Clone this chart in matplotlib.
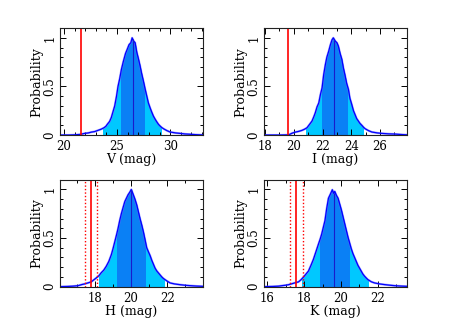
import numpy as np
import matplotlib
matplotlib.use("Agg")
import matplotlib.pyplot as plt
from matplotlib.patches import Rectangle
from matplotlib.ticker import MultipleLocator

# --- данные ---
v_mag = [19.62, 20.5, 21.0, 21.5, 21.95, 22.3, 22.58, 22.9, 23.2, 23.5, 23.77, 23.95, 24.08, 24.3,
         24.46, 24.62, 24.78, 24.95, 25.09, 25.25, 25.41, 25.6, 25.8, 25.95, 26.13, 26.3, 26.42,
         26.54, 26.7, 26.86, 27.0, 27.17, 27.3, 27.48, 27.65, 27.8, 27.95, 28.11, 28.25, 28.42,
         28.6, 28.75, 28.9, 29.06, 29.2, 29.37, 29.7, 30.0, 30.5, 30.94, 31.4, 31.89, 32.4, 32.83, 33.1]
v_prob = [0.0, 0.0, 0.002, 0.006, 0.017, 0.022, 0.03, 0.036, 0.048, 0.06, 0.075, 0.09, 0.11, 0.14,
          0.18, 0.24, 0.30, 0.40, 0.50, 0.58, 0.675, 0.76, 0.84, 0.88, 0.93, 0.95, 1.0,
          0.97, 0.95, 0.85, 0.79, 0.71, 0.64, 0.555, 0.47, 0.40, 0.33, 0.28, 0.24, 0.195,
          0.16, 0.134, 0.11, 0.092, 0.078, 0.065, 0.045, 0.031, 0.022, 0.017, 0.011, 0.008, 0.004, 0.002, 0.001]

i_mag = [17.93, 19.0, 19.65, 19.9, 20.11, 20.35, 20.57, 20.75, 20.92, 21.1, 21.27, 21.4, 21.5, 21.62,
         21.74, 21.86, 21.97, 22.08, 22.2, 22.3, 22.43, 22.55, 22.66, 22.75, 22.89, 23.0, 23.1,
         23.22, 23.34, 23.45, 23.57, 23.68, 23.8, 23.9, 24.03, 24.15, 24.26, 24.37, 24.49, 24.6,
         24.73, 24.85, 24.96, 25.2, 25.43, 25.8, 26.12, 26.6, 27.05, 27.4, 27.74, 27.88]
i_prob = [0.0, 0.0, 0.002, 0.02, 0.03, 0.038, 0.048, 0.06, 0.075, 0.11, 0.144, 0.19, 0.23, 0.29,
          0.33, 0.42, 0.486, 0.62, 0.726, 0.80, 0.863, 0.93, 0.98, 1.0, 0.966, 0.95, 0.915,
          0.84, 0.78, 0.69, 0.61, 0.53, 0.47, 0.38, 0.315, 0.25, 0.21, 0.17, 0.144, 0.12,
          0.10, 0.08, 0.065, 0.045, 0.031, 0.022, 0.017, 0.012, 0.01, 0.006, 0.003, 0.002]

h_mag = [16.08, 16.5, 16.8, 17.08, 17.3, 17.45, 17.62, 17.81, 17.95, 18.09, 18.22, 18.36, 18.5, 18.64,
         18.78, 18.92, 19.01, 19.1, 19.2, 19.29, 19.38, 19.47, 19.56, 19.66, 19.75, 19.84, 19.93,
         20.02, 20.13, 20.22, 20.32, 20.41, 20.5, 20.6, 20.69, 20.78, 20.87, 20.96, 21.06, 21.15,
         21.24, 21.33, 21.43, 21.52, 21.61, 21.7, 21.79, 21.97, 22.16, 22.4, 22.71, 23.0, 23.27,
         23.6, 23.98]
h_prob = [0.0, 0.002, 0.005, 0.01, 0.022, 0.028, 0.038, 0.049, 0.07, 0.09, 0.11, 0.143, 0.17, 0.21,
          0.26, 0.33, 0.39, 0.456, 0.53, 0.6, 0.68, 0.75, 0.81, 0.875, 0.91, 0.945, 0.97,
          1.0, 0.945, 0.90, 0.84, 0.77, 0.70, 0.63, 0.56, 0.48, 0.40, 0.36, 0.317, 0.27,
          0.23, 0.19, 0.16, 0.14, 0.12, 0.10, 0.084, 0.06, 0.038, 0.028, 0.02, 0.014, 0.01,
          0.006, 0.003]

k_mag = [15.81, 16.3, 16.6, 16.79, 17.0, 17.15, 17.3, 17.42, 17.55, 17.69, 17.82, 17.96, 18.1, 18.23,
         18.37, 18.5, 18.64, 18.78, 18.87, 18.95, 19.04, 19.13, 19.22, 19.32, 19.42, 19.53, 19.6,
         19.66, 19.75, 19.84, 19.93, 20.02, 20.11, 20.2, 20.29, 20.38, 20.47, 20.56, 20.65, 20.74,
         20.83, 20.92, 21.01, 21.1, 21.19, 21.28, 21.37, 21.46, 21.65, 21.83, 22.1, 22.37, 22.65,
         22.91, 23.25, 23.6]
k_prob = [0.0, 0.002, 0.005, 0.01, 0.015, 0.02, 0.028, 0.035, 0.042, 0.049, 0.07, 0.098, 0.13, 0.16,
          0.22, 0.28, 0.36, 0.44, 0.49, 0.54, 0.61, 0.68, 0.80, 0.91, 0.95, 0.997, 0.96,
          0.98, 0.94, 0.91, 0.85, 0.79, 0.72, 0.65, 0.58, 0.51, 0.45, 0.39, 0.34, 0.30,
          0.26, 0.22, 0.19, 0.16, 0.13, 0.108, 0.09, 0.073, 0.05, 0.038, 0.028, 0.021, 0.015,
          0.01, 0.006, 0.003]

band_names = ['V', 'I', 'H', 'K']
medians = [26.48, 22.82, 20.0, 19.62]
sigma1 = [(25.35, 27.55), (21.99, 23.69), (19.22, 20.78), (18.88, 20.42)]
sigma2 = [(23.71, 29.12), (20.87, 24.84), (18.24, 21.83), (17.89, 21.45)]
observed = [21.58, 19.6, 17.78, 17.58]
observed_err = [None, None, (17.45, 18.11), (17.22, 17.91)]
x_limits = [(19.62, 33.1), (17.93, 27.88), (16.08, 23.98), (15.81, 23.6)]
x_major = [5, 2, 2, 2]

curves = [(v_mag, v_prob), (i_mag, i_prob), (h_mag, h_prob), (k_mag, k_prob)]

# положение осей в долях фигуры [left, bottom, width, height]
rects = [[0.128, 0.592, 0.306, 0.323], [0.564, 0.592, 0.306, 0.323],
         [0.128, 0.134, 0.306, 0.323], [0.564, 0.134, 0.306, 0.323]]

LIGHT = '#00c8ff'
DARK = '#0a80f5'

plt.rcParams['font.family'] = ['DejaVu Serif']
fig = plt.figure(figsize=(4.68, 3.31), dpi=100)


def fill_band(ax, x, y, lo, hi, color):
    """заливка под кривой, обрезанная прямоугольником lo..hi"""
    poly = ax.fill_between(x, 0, y, color=color, linewidth=0)
    poly.set_clip_path(Rectangle((lo, 0), hi - lo, 2, transform=ax.transData))


for k in range(4):
    ax = fig.add_axes(rects[k])
    x, y = curves[k]

    fill_band(ax, x, y, sigma2[k][0], sigma2[k][1], LIGHT)
    fill_band(ax, x, y, sigma1[k][0], sigma1[k][1], DARK)
    ax.plot(x, y, color='#6a6aff', lw=1.6, alpha=0.6)
    ax.plot(x, y, color='blue', lw=0.9)
    ax.vlines(medians[k], 0, np.interp(medians[k], x, y), color='#1a1acc', lw=0.8)

    ax.axvline(observed[k], color='red', lw=1.2)
    if observed_err[k] is not None:
        for xe in observed_err[k]:
            ax.axvline(xe, color='red', lw=1.0, ls=(0, (1, 1.5)))

    ax.set_xlim(x_limits[k])
    ax.set_ylim(0, 1.1)
    ax.xaxis.set_major_locator(MultipleLocator(x_major[k]))
    ax.xaxis.set_minor_locator(MultipleLocator(1))
    ax.set_yticks([0, 0.5, 1])
    ax.set_yticklabels(['0', '0.5', '1'], rotation=90, va='center')
    ax.yaxis.set_minor_locator(MultipleLocator(0.1))
    ax.tick_params(which='both', direction='in', top=True, right=True, labelsize=8.5, width=0.7)
    ax.tick_params(which='major', length=4.5, pad=3.5)
    ax.tick_params(axis='y', which='major', pad=2.5)
    ax.tick_params(which='minor', length=2.2)
    for sp in ax.spines.values():
        sp.set_linewidth(0.8)
        sp.set_color('#222222')

    ax.set_xlabel('{} (mag)'.format(band_names[k]), fontsize=9, labelpad=0)
    ax.set_ylabel('Probability', fontsize=9, labelpad=0)

fig.savefig('out.png', dpi=100)
